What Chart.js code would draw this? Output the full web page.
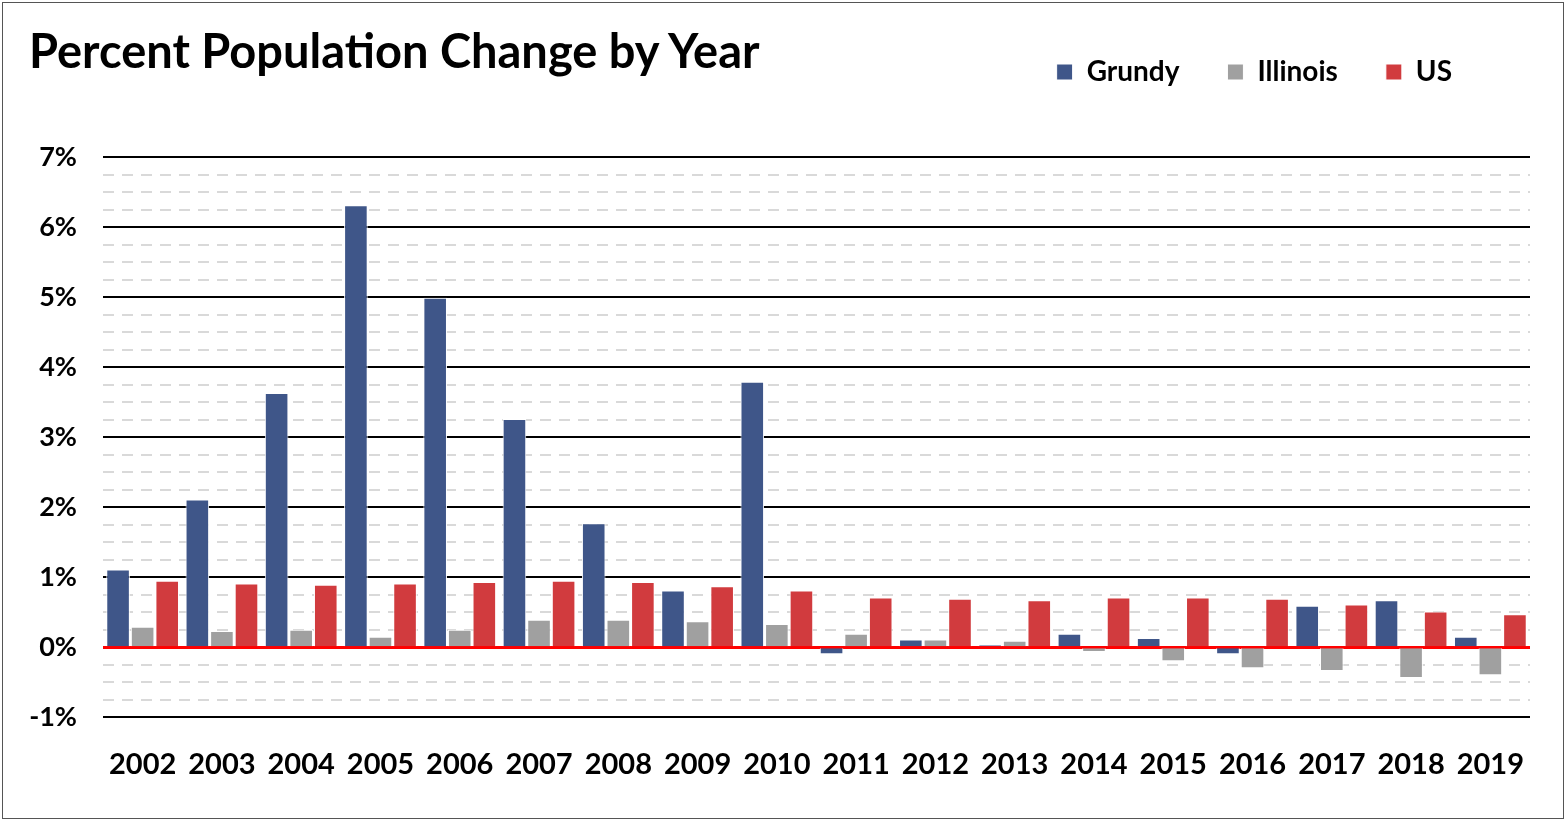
<!DOCTYPE html>
<html>
<head>
<meta charset="utf-8">
<script src="https://cdn.jsdelivr.net/npm/chart.js@4.4.1/dist/chart.umd.min.js"></script>
<style>
  html, body { margin: 0; padding: 0; background: #fff; }
  #wrap { position: relative; width: 1566px; height: 822px; }
  #frame { position: absolute; left: 2px; top: 2px; width: 1562px; height: 817px; border: 1px solid #555; box-sizing: border-box; pointer-events: none; }
  #title { position: absolute; left: 29px; top: 22px; font: bold 47px Lato, sans-serif; color: #000; white-space: nowrap; }
  canvas { position: absolute; left: 0; top: 0; }
</style>
</head>
<body>
<div id="wrap">
  <canvas id="chart" width="1566" height="822"></canvas>
  <div id="title">Percent Population Change by Year</div>
  <div id="frame"></div>
</div>
<script>
const years = ["2002","2003","2004","2005","2006","2007","2008","2009","2010",
  "2011","2012","2013","2014","2015","2016","2017","2018","2019"];

const grundy = [1.11, 2.11, 3.63, 6.31, 4.99, 3.26, 1.77, 0.81, 3.79,
  -0.10, 0.11, 0.03, 0.19, 0.13, -0.10, 0.59, 0.67, 0.15];
const illinois = [0.29, 0.23, 0.25, 0.15, 0.25, 0.39, 0.39, 0.37, 0.33,
  0.19, 0.11, 0.09, -0.07, -0.20, -0.30, -0.34, -0.44, -0.40];
const us = [0.95, 0.91, 0.89, 0.91, 0.93, 0.95, 0.93, 0.87, 0.81,
  0.71, 0.69, 0.67, 0.71, 0.71, 0.69, 0.61, 0.51, 0.47];

const yMin = -1, yMax = 7;

// extra room under the legend, and pull it a bit in from the right edge
const legendSpacing = {
  id: "legendSpacing",
  beforeInit(chart){
    const fit = chart.legend.fit;
    chart.legend.fit = function(){
      fit.bind(chart.legend)();
      this.height += 61;
    };
  },
  afterLayout(chart){
    chart.legend.right -= 30;
  }
};

new Chart(document.getElementById("chart"), {
  type: "bar",
  data: {
    labels: years,
    datasets: [
      { label: "Grundy", data: grundy, backgroundColor: "#3f5689", borderColor: "#ffffff", borderWidth: 1 },
      { label: "Illinois", data: illinois, backgroundColor: "#a0a0a0", borderColor: "#ffffff", borderWidth: 1 },
      { label: "US", data: us, backgroundColor: "#d13b3e", borderColor: "#ffffff", borderWidth: 1 }
    ]
  },
  plugins: [legendSpacing],
  options: {
    responsive: false,
    animation: false,
    layout: { padding: { left: 10, right: 36, top: 10, bottom: 10 } },
    datasets: { bar: { categoryPercentage: 0.93, barPercentage: 0.96 } },
    plugins: {
      legend: {
        position: "top",
        align: "end",
        labels: {
          font: { family: "Lato", size: 28, weight: "bold" },
          color: "#000",
          boxWidth: 16,
          boxHeight: 16,
          padding: 48
        }
      },
      tooltip: { enabled: false }
    },
    scales: {
      x: {
        grid: { display: false, drawTicks: false },
        border: { display: false },
        ticks: { font: { family: "Lato", size: 29, weight: "bold" }, color: "#000", padding: 30, maxRotation: 0, autoSkip: false }
      },
      y2: {
        min: yMin, max: yMax,
        position: "left",
        grid: { color: "#d9d9d9", lineWidth: 2, drawTicks: false },
        border: { display: false, dash: [11, 8] },
        ticks: { stepSize: 0.25, display: false },
        afterFit(scale){ scale.width = 0; }
      },
      y: {
        min: yMin, max: yMax,
        position: "left",
        grid: {
          drawTicks: false,
          color: ctx => ctx.tick && ctx.tick.value === 0 ? "#ff0000" : "#000000",
          lineWidth: ctx => ctx.tick && ctx.tick.value === 0 ? 3 : 2
        },
        border: { display: false },
        ticks: {
          stepSize: 1,
          padding: 26,
          color: "#000",
          font: { family: "Lato", size: 27, weight: "bold" },
          callback: v => v + "%"
        },
        afterFit(scale){ scale.width = 93; }
      }
    }
  }
});
</script>
</body>
</html>
